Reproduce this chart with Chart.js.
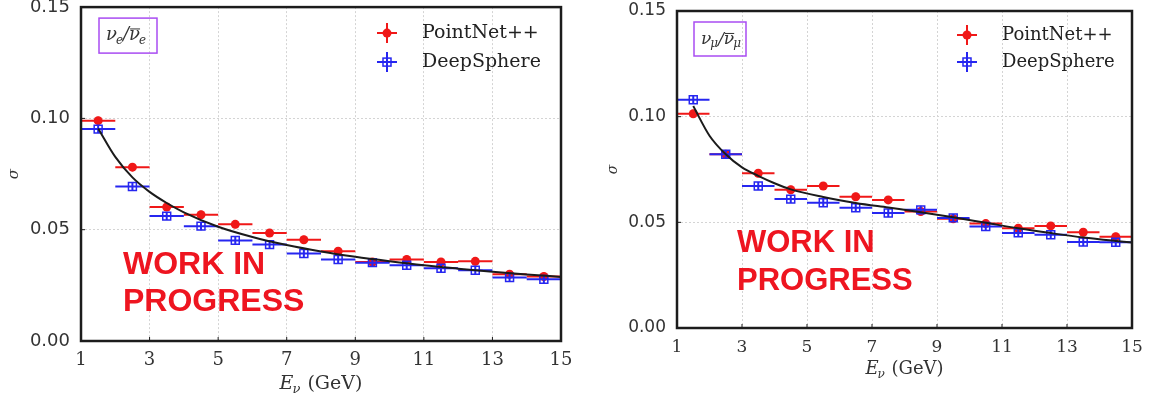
<!DOCTYPE html>
<html>
<head>
<meta charset="utf-8">
<script src="https://cdn.jsdelivr.net/npm/chart.js@4.4.1/dist/chart.umd.min.js"></script>
<style>
  html, body { margin: 0; padding: 0; background: #fff; }
  #wrap { position: relative; width: 1153px; height: 403px; overflow: hidden; }
  .panel { position: absolute; top: 0; }
</style>
</head>
<body>
<div id="wrap">
  <div class="panel" style="left:0;width:580px;height:403px"><canvas id="chartNuE"></canvas></div>
  <div class="panel" style="left:580px;width:573px;height:390px"><canvas id="chartNuMu"></canvas></div>
</div>
<script>
// ---------------- data ----------------
const binCenters   = [1.5, 2.5, 3.5, 4.5, 5.5, 6.5, 7.5, 8.5, 9.5, 10.5, 11.5, 12.5, 13.5, 14.5];
const binHalfWidth = [0.5, 0.5, 0.5, 0.5, 0.5, 0.5, 0.5, 0.5, 0.5, 0.5, 0.5, 0.5, 0.5, 0.5];
const xTickValues  = [1, 3, 5, 7, 9, 11, 13, 15];
const yTickValues  = [0, 0.05, 0.10, 0.15];

// nu_e / nu_e-bar panel
const pointNetE   = [0.0990, 0.0781, 0.0602, 0.0567, 0.0524, 0.0485, 0.0455, 0.0403, 0.0355, 0.0366, 0.0355, 0.0358, 0.0300, 0.0290];
const deepSphereE = [0.0952, 0.0694, 0.0561, 0.0516, 0.0452, 0.0433, 0.0393, 0.0366, 0.0352, 0.0340, 0.0327, 0.0318, 0.0285, 0.0277];
const fitEnergyE  = [1.5, 2, 2.5, 3, 3.5, 4, 5, 6, 7, 8, 9, 10, 11, 12, 13, 14, 15];
const fitSigmaE   = [0.0955, 0.0827, 0.0735, 0.0670, 0.0620, 0.0578, 0.0513, 0.0467, 0.0431, 0.0402, 0.0378, 0.0358, 0.0340, 0.0325, 0.0311, 0.0299, 0.0288];

// nu_mu / nu_mu-bar panel
const pointNetMu   = [0.1014, 0.0822, 0.0732, 0.0654, 0.0672, 0.0621, 0.0606, 0.0551, 0.0517, 0.0494, 0.0472, 0.0483, 0.0453, 0.0432];
const deepSphereMu = [0.1080, 0.0822, 0.0672, 0.0610, 0.0593, 0.0569, 0.0544, 0.0559, 0.0521, 0.0480, 0.0450, 0.0441, 0.0407, 0.0406];
const fitEnergyMu  = [1.5, 2, 2.5, 3, 3.5, 4, 4.5, 5.5, 6.5, 7.5, 8.5, 9.5, 10.5, 11.5, 12.5, 13.5, 14.5, 15];
const fitSigmaMu   = [0.1050, 0.0910, 0.0822, 0.0760, 0.0720, 0.0685, 0.0656, 0.0620, 0.0592, 0.0570, 0.0548, 0.0524, 0.0498, 0.0472, 0.0449, 0.0428, 0.0412, 0.0405];

const seriesNames = ['PointNet++', 'DeepSphere'];
const RED = '#f01818';
const BLUE = '#2626f0';

// --------------------------- HELPERS ------------------------
function toPoints(xs, ys) {
  return xs.map((x, i) => ({ x: x, y: ys[i] }));
}

// nu symbol with subscript, optional bar on top
function drawNu(ctx, x, y, sub, size, bar) {
  ctx.font = `italic ${size}px "DejaVu Serif", serif`;
  const w = ctx.measureText('ν').width;
  ctx.fillText('ν', x, y);
  if (bar) {
    ctx.beginPath();
    ctx.lineWidth = 1;
    ctx.moveTo(x + 1, y - size * 0.62);
    ctx.lineTo(x + w, y - size * 0.62);
    ctx.stroke();
  }
  ctx.font = `italic ${Math.round(size * 0.68)}px "DejaVu Serif", serif`;
  ctx.fillText(sub, x + w - 1, y + size * 0.2);
  return x + w - 1 + ctx.measureText(sub).width;
}

function drawLegendMarker(ctx, x, y, kind, color) {
  ctx.strokeStyle = color;
  ctx.lineWidth = 2;
  ctx.beginPath();
  ctx.moveTo(x - 10, y); ctx.lineTo(x + 10, y);
  ctx.moveTo(x, y - 10); ctx.lineTo(x, y + 10);
  ctx.stroke();
  if (kind === 'circle') {
    ctx.fillStyle = color;
    ctx.beginPath();
    ctx.arc(x, y, 4.5, 0, Math.PI * 2);
    ctx.fill();
  } else {
    ctx.lineWidth = 1.5;
    ctx.strokeRect(x - 4, y - 4, 8, 8);
  }
}

const panelDecor = {
  id: 'panelDecor',
  // horizontal bin-width bars (and tiny vertical ones) under each marker
  beforeDatasetDraw(chart, args) {
    const ds = chart.data.datasets[args.index];
    if (!ds.xErr) return;
    const ctx = chart.ctx, xs = chart.scales.x, ys = chart.scales.y;
    ctx.save();
    ctx.strokeStyle = ds.barColor;
    ctx.lineWidth = 2;
    ctx.beginPath();
    ds.data.forEach((p, i) => {
      const py = ys.getPixelForValue(p.y);
      const px = xs.getPixelForValue(p.x);
      ctx.moveTo(xs.getPixelForValue(p.x - ds.xErr[i]), py);
      ctx.lineTo(xs.getPixelForValue(p.x + ds.xErr[i]), py);
      ctx.moveTo(px, py - 4);
      ctx.lineTo(px, py + 4);
    });
    ctx.stroke();
    ctx.restore();
  },
  afterDraw(chart, args, o) {
    const ctx = chart.ctx, ca = chart.chartArea, s = o.scale;
    const xs = chart.scales.x, ys = chart.scales.y;
    ctx.save();

    // frame + small inward ticks
    ctx.strokeStyle = '#1c1c1c';
    ctx.lineWidth = 2.5;
    ctx.strokeRect(ca.left, ca.top, ca.right - ca.left, ca.bottom - ca.top);
    ctx.lineWidth = 1;
    ctx.beginPath();
    xs.ticks.forEach(t => {
      const px = xs.getPixelForValue(t.value);
      ctx.moveTo(px, ca.bottom); ctx.lineTo(px, ca.bottom - 4);
    });
    ys.ticks.forEach(t => {
      const py = ys.getPixelForValue(t.value);
      ctx.moveTo(ca.left, py); ctx.lineTo(ca.left + 4, py);
    });
    ctx.stroke();

    // flavour label in purple box
    ctx.strokeStyle = '#a94cf2';
    ctx.lineWidth = 1.5;
    ctx.strokeRect(ca.left + o.box.dx, ca.top + o.box.dy, o.box.w, o.box.h);
    ctx.fillStyle = '#333';
    ctx.strokeStyle = '#333';
    let tx = ca.left + o.box.dx + 7;
    const ty = ca.top + o.box.dy + 22;
    tx = drawNu(ctx, tx, ty, o.flavour, Math.round(18 * s), false);
    ctx.font = `italic ${Math.round(18 * s)}px "DejaVu Serif", serif`;
    ctx.fillText('/', tx, ty);
    tx += ctx.measureText('/').width;
    drawNu(ctx, tx, ty, o.flavour, Math.round(18 * s), true);

    // legend
    ctx.textBaseline = 'middle';
    ctx.font = `${Math.round(19 * s)}px "DejaVu Serif", serif`;
    const kinds = ['circle', 'square'];
    const colors = [RED, BLUE];
    seriesNames.forEach((name, i) => {
      const ly = ca.top + o.legend.rows[i];
      drawLegendMarker(ctx, ca.right - o.legend.marker, ly, kinds[i], colors[i]);
      ctx.fillStyle = '#222';
      ctx.fillText(name, ca.right - o.legend.text, ly);
    });

    // axis titles
    ctx.textBaseline = 'alphabetic';
    ctx.fillStyle = '#333';
    const big = Math.round(19 * s), small = Math.round(13 * s);
    ctx.font = `italic ${big}px "DejaVu Serif", serif`;
    const wE = ctx.measureText('E').width;
    ctx.font = `italic ${small}px "DejaVu Serif", serif`;
    const wNu = ctx.measureText('ν').width;
    ctx.font = `${big}px "DejaVu Serif", serif`;
    const wRest = ctx.measureText(' (GeV)').width;
    let ax = (ca.left + ca.right) / 2 - (wE + wNu + wRest) / 2;
    const ay = ca.bottom + o.xTitleDy;
    ctx.font = `italic ${big}px "DejaVu Serif", serif`;
    ctx.fillText('E', ax, ay);
    ctx.font = `italic ${small}px "DejaVu Serif", serif`;
    ctx.fillText('ν', ax + wE - 1, ay + 4);
    ctx.font = `${big}px "DejaVu Serif", serif`;
    ctx.fillText(' (GeV)', ax + wE + wNu, ay);

    ctx.save();
    ctx.translate(o.yTitleX, (ca.top + ca.bottom) / 2);
    ctx.rotate(-Math.PI / 2);
    ctx.textAlign = 'center';
    ctx.font = `italic ${Math.round(15 * s)}px "DejaVu Serif", serif`;
    ctx.fillText('σ', 0, 5);
    ctx.restore();

    // work in progress stamp
    ctx.fillStyle = '#ee1520';
    ctx.font = `bold ${o.wip.size}px "Liberation Sans", Arial, sans-serif`;
    ctx.fillText('WORK IN', ca.left + o.wip.dx, ca.top + o.wip.dy);
    ctx.fillText('PROGRESS', ca.left + o.wip.dx, ca.top + o.wip.dy + o.wip.gap);

    ctx.restore();
  }
};

function drawPanel(canvasId, pointNet, deepSphere, fitX, fitY, look) {
  const ctx = document.getElementById(canvasId).getContext('2d');
  const s = look.scale;
  return new Chart(ctx, {
    type: 'scatter',
    data: {
      datasets: [
        {
          label: 'fit',
          data: toPoints(fitX, fitY),
          showLine: true,
          borderColor: '#1b1b1b',
          borderWidth: 2,
          pointRadius: 0,
          cubicInterpolationMode: 'monotone',
          order: 0
        },
        {
          label: seriesNames[1],
          data: toPoints(binCenters, deepSphere),
          xErr: binHalfWidth,
          barColor: BLUE,
          pointStyle: 'rect',
          pointRadius: 5.6,
          backgroundColor: 'rgba(0,0,0,0)',
          borderColor: BLUE,
          borderWidth: 1.5,
          order: 1
        },
        {
          label: seriesNames[0],
          data: toPoints(binCenters, pointNet),
          xErr: binHalfWidth,
          barColor: RED,
          pointStyle: 'circle',
          pointRadius: 4.5,
          backgroundColor: RED,
          borderWidth: 0,
          order: 2
        }
      ]
    },
    options: {
      responsive: true,
      maintainAspectRatio: false,
      animation: false,
      events: [],
      layout: { padding: { top: look.top, right: look.right, left: 0, bottom: 0 } },
      scales: {
        x: {
          type: 'linear',
          min: 1,
          max: 15,
          afterBuildTicks: sc => { sc.ticks = xTickValues.map(v => ({ value: v })); },
          afterFit: sc => { sc.height = look.xAxisH; sc.paddingLeft = 0; sc.paddingRight = 0; },
          ticks: {
            padding: 9,
            color: '#333',
            font: { family: '"DejaVu Serif", serif', size: Math.round(18 * s) },
            maxRotation: 0
          },
          grid: { color: '#d4d4d4', lineWidth: 1, drawTicks: false },
          border: { display: false, dash: [2, 2] }
        },
        y: {
          type: 'linear',
          min: 0,
          max: 0.15,
          afterBuildTicks: sc => { sc.ticks = yTickValues.map(v => ({ value: v })); },
          afterFit: sc => { sc.width = look.yAxisW; sc.paddingTop = 0; sc.paddingBottom = 0; },
          ticks: {
            padding: 11,
            color: '#333',
            font: { family: '"DejaVu Sans", sans-serif', size: Math.round(18 * s) },
            callback: v => v.toFixed(2)
          },
          grid: { color: '#d4d4d4', lineWidth: 1, drawTicks: false },
          border: { display: false, dash: [2, 2] }
        }
      },
      plugins: {
        legend: { display: false },
        tooltip: { enabled: false },
        panelDecor: look.decor
      }
    },
    plugins: [panelDecor]
  });
}

drawPanel('chartNuE', pointNetE, deepSphereE, fitEnergyE, fitSigmaE, {
  scale: 1, top: 6, right: 19, yAxisW: 81, xAxisH: 62,
  decor: {
    scale: 1, flavour: 'e',
    box: { dx: 18, dy: 11, w: 58, h: 35 },
    legend: { marker: 174, text: 139, rows: [26, 55] },
    xTitleDy: 48, yTitleX: 13,
    wip: { size: 32, dx: 42, dy: 267, gap: 37 }
  }
});

drawPanel('chartNuMu', pointNetMu, deepSphereMu, fitEnergyMu, fitSigmaMu, {
  scale: 0.95, top: 11, right: 21, yAxisW: 97, xAxisH: 62,
  decor: {
    scale: 0.95, flavour: 'μ',
    box: { dx: 17, dy: 11, w: 52, h: 34 },
    legend: { marker: 165, text: 130, rows: [24, 51] },
    xTitleDy: 46, yTitleX: 32,
    wip: { size: 31, dx: 60, dy: 241, gap: 38 }
  }
});
</script>
</body>
</html>
